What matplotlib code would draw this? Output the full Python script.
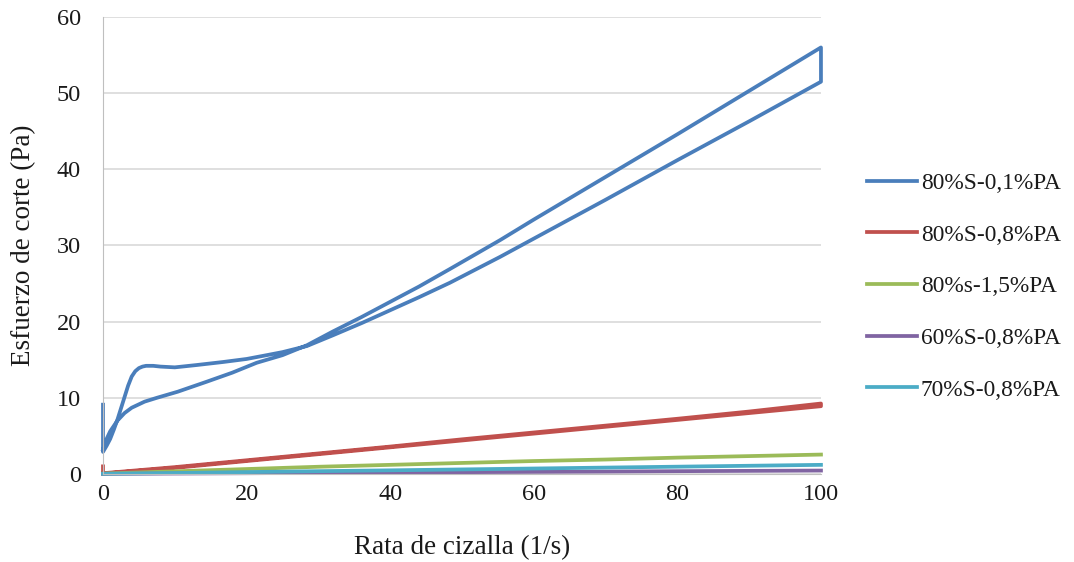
import matplotlib.pyplot as plt

plt.rcParams["font.family"] = ["Liberation Serif", "DejaVu Serif"]

# 80%S-0,1%PA: hysteresis loop (up ramp, hold at 100, down ramp)
blue_x = [0, 0, 0.5, 1, 1.5, 2, 2.5, 3, 3.5, 4, 4.5, 5, 5.5, 6, 7, 8, 10, 13, 16.7, 20, 22.8, 25, 28.4,
          32, 36, 40, 44, 48.3, 55.3, 60, 70, 80, 90, 100,
          100, 90, 80, 70, 60, 55.3, 48.3, 44, 40, 36, 32, 28.4, 25, 21.4, 18, 14.4,
          10.4, 7.5, 5.8, 4, 3, 2, 1, 0.5, 0]
blue_y = [9.1, 2.9, 3.7, 4.6, 5.8, 7.1, 8.6, 10.1, 11.6, 12.8, 13.5, 13.9, 14.1, 14.2, 14.2, 14.1, 14.0, 14.3, 14.7, 15.1, 15.6, 16.0, 16.8,
          18.2, 19.8, 21.5, 23.2, 25.1, 28.5, 30.9, 36.0, 41.2, 46.3, 51.5,
          56.0, 50.3, 44.6, 39.0, 33.4, 30.7, 26.9, 24.6, 22.6, 20.6, 18.7, 16.9, 15.6, 14.6, 13.3, 12.1,
          10.8, 10.0, 9.5, 8.7, 8.0, 7.0, 5.6, 4.6, 3.2]

ramp = [0, 10, 20, 30, 40, 50, 60, 70, 80, 90, 100]

red_x = [0] + ramp + ramp[::-1]
red_y = [1.0, 0.1, 0.9, 1.8, 2.7, 3.6, 4.55, 5.45, 6.35, 7.25, 8.2, 9.25,
         8.9, 8.0, 7.1, 6.2, 5.3, 4.4, 3.5, 2.6, 1.7, 0.8, 0.05]

green_y = [0.05, 0.35, 0.65, 0.95, 1.2, 1.45, 1.7, 1.9, 2.15, 2.35, 2.55]
purple_y = [0.02, 0.06, 0.1, 0.15, 0.19, 0.24, 0.28, 0.32, 0.37, 0.41, 0.45]
cyan_y = [0.03, 0.13, 0.25, 0.37, 0.48, 0.6, 0.72, 0.84, 0.96, 1.08, 1.2]

labels = ["80%S-0,1%PA", "80%S-0,8%PA", "80%s-1,5%PA", "60%S-0,8%PA", "70%S-0,8%PA"]
colors = ["#4A7EBB", "#C0504D", "#9BBB59", "#8064A2", "#4BACC6"]

fig = plt.figure(figsize=(10.74, 5.62), dpi=100)
ax = fig.add_axes([0.0959, 0.1566, 0.6685, 0.8132])

series = [(blue_x, blue_y), (red_x, red_y), (ramp, green_y), (ramp, purple_y), (ramp, cyan_y)]
for (xs, ys), lab, c in zip(series, labels, colors):
    ax.plot(xs, ys, color=c, lw=2.7, label=lab, clip_on=False, solid_joinstyle="round")

ax.set_xlim(0, 100)
ax.set_ylim(0, 60)
ax.set_xticks(range(0, 101, 20))
ax.set_yticks(range(0, 61, 10))
ax.grid(axis="y", color="#D9D9D9", lw=1.2)
ax.set_axisbelow(True)
for s in ["top", "right"]:
    ax.spines[s].set_visible(False)
ax.spines["left"].set_color("#BFBFBF")
ax.spines["bottom"].set_color("#BFBFBF")
ax.tick_params(length=0, labelsize=17.5, colors="#1a1a1a")
ax.tick_params(axis="x", pad=7)
ax.tick_params(axis="y", pad=16)

ax.set_xlabel("Rata de cizalla (1/s)", fontsize=19.5, labelpad=22, color="#1a1a1a")
ax.set_ylabel("Esfuerzo de corte (Pa)", fontsize=19.5, labelpad=15, color="#1a1a1a")

leg = ax.legend(loc="center left", bbox_to_anchor=(1.035, 0.41), frameon=False, fontsize=16.8,
                handlelength=2.15, handletextpad=0.15, labelspacing=1.3)
for t in leg.get_texts():
    t.set_color("#1a1a1a")

fig.savefig("out.png", dpi=100)
